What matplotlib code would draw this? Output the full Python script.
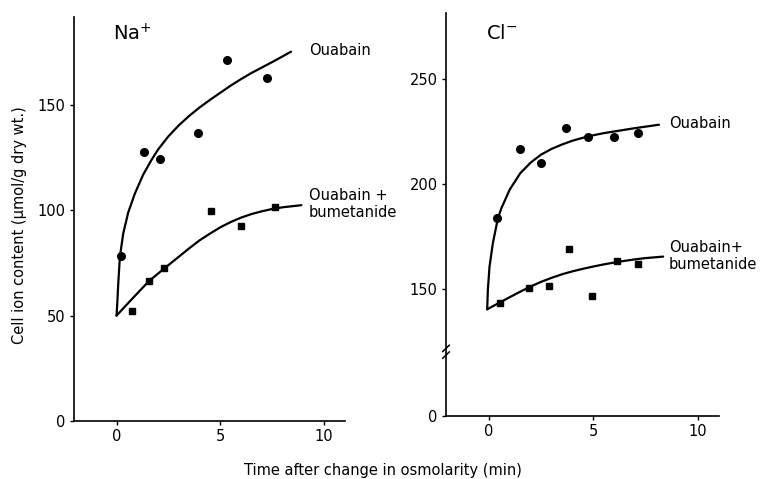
import numpy as np
import matplotlib
matplotlib.use("Agg")
import matplotlib.pyplot as plt

# ---------------- data ----------------
# Na+ panel
na_oua_x = [0.2, 1.3, 2.08, 3.93, 5.33, 7.26]
na_oua_y = [78.5, 128, 124.5, 137, 171.5, 163]
na_bum_x = [0.75, 1.58, 2.3, 4.54, 6.0, 7.62]
na_bum_y = [52, 66.5, 72.4, 99.8, 92.4, 101.8]
# fitted curves
na_oua_cx = [0, 0.04, 0.08, 0.16, 0.32, 0.56, 0.88, 1.28, 1.68, 2.0, 2.5, 3.0, 3.5, 4.0,
             4.5, 5.0, 5.5, 6.0, 6.5, 7.0, 7.5, 8.0, 8.4]
na_oua_cy = [50, 57, 65, 78, 89, 99, 108, 117, 124, 129, 135.3, 140.5, 145, 149, 152.6,
             156, 159.4, 162.5, 165.4, 168, 170.6, 173.3, 175.5]
na_bum_cx = [0, 0.8, 1.57, 2.32, 3.0, 3.5, 4.0, 4.5, 5.0, 5.5, 6.0, 6.5, 7.0, 7.5, 8.0, 8.9]
na_bum_cy = [50, 58.5, 66.5, 72.6, 78, 82, 85.8, 89, 92, 94.5, 96.6, 98.3, 99.6, 100.7,
             101.5, 102.5]

# Cl- panel
cl_oua_x = [0.40, 1.48, 2.5, 3.67, 4.72, 5.98, 7.11]
cl_oua_y = [183.8, 217, 210.2, 227, 222.6, 222.6, 224.5]
cl_bum_x = [0.53, 1.91, 2.87, 3.83, 4.93, 6.14, 7.13]
cl_bum_y = [143.5, 150.7, 151.8, 169.4, 146.7, 163.5, 162]
cl_oua_cx = [-0.08, -0.05, 0.03, 0.19, 0.43, 0.6, 1.0, 1.5, 2.0, 2.5, 3.0, 3.5, 4.0, 4.5,
             5.0, 5.5, 6.0, 6.5, 7.0, 7.5, 8.13]
cl_oua_cy = [140.5, 149.7, 160.8, 172, 183.8, 188.7, 197.6, 205.3, 210.4, 214.2, 216.9,
             219, 220.8, 222.2, 223.4, 224.4, 225.2, 226, 226.8, 227.5, 228.4]
cl_bum_cx = [-0.08, 0.51, 1.0, 1.5, 2.0, 2.5, 3.0, 3.5, 4.0, 4.5, 5.0, 5.5, 6.0, 6.5, 7.0,
             7.5, 8.33]
cl_bum_cy = [140.5, 143.7, 146.3, 148.9, 151.4, 153.6, 155.5, 157.2, 158.6, 159.8, 160.9,
             161.9, 162.8, 163.6, 164.3, 164.9, 165.6]

x_ticks = [0, 5, 10]
na_yticks = [0, 50, 100, 150]
cl_yticks = [0, 150, 200, 250]

# ---------------- figure ----------------
plt.rcParams['font.family'] = ['DejaVu Sans']
fig = plt.figure(figsize=(7.64, 4.79), dpi=100)

ax1 = fig.add_axes([74/764, 1 - 420.7/479, 271/764, 403.7/479])
ax2 = fig.add_axes([446/764, 1 - 416/479, 273/764, 403/479])

# broken y-scale for Cl panel
BRK = 120.0
LOW = 30.3
OFF = BRK - LOW

def fwd(y):
    y = np.asarray(y, dtype=float)
    return np.where(y < BRK, y * LOW / BRK, y - OFF)

def inv(v):
    v = np.asarray(v, dtype=float)
    return np.where(v < LOW, v * BRK / LOW, v + OFF)

ax2.set_yscale('function', functions=(fwd, inv))

lw = 1.6
for ax in (ax1, ax2):
    for s in ('top', 'right'):
        ax.spines[s].set_visible(False)
    for s in ('left', 'bottom'):
        ax.spines[s].set_linewidth(1.2)
    ax.set_xlim(-2.05, 11)
    ax.set_xticks(x_ticks)
    ax.tick_params(direction='out', length=3, width=1, labelsize=10.5, pad=3)
    ax.patch.set_alpha(0)

# Na panel
ax1.plot(na_oua_cx, na_oua_cy, color='black', lw=lw, solid_capstyle='round',
         solid_joinstyle='round')
ax1.plot(na_bum_cx, na_bum_cy, color='black', lw=lw, solid_capstyle='round',
         solid_joinstyle='round')
ax1.plot(na_oua_x, na_oua_y, 'o', color='black', ms=5.5)
ax1.plot(na_bum_x, na_bum_y, 's', color='black', ms=5)
ax1.set_ylim(0, 192)
ax1.set_yticks(na_yticks)
ax1.text(-0.15, 184, 'Na$^{+}$', fontsize=14, ha='left', va='center')
ax1.text(9.25, 176, 'Ouabain', fontsize=10.5, ha='left', va='center')
ax1.text(9.25, 103, 'Ouabain +\nbumetanide', fontsize=10.5, ha='left', va='center',
         linespacing=1.2)

# Cl panel
ax2.plot(cl_oua_cx, cl_oua_cy, color='black', lw=lw, solid_capstyle='round',
         solid_joinstyle='round')
ax2.plot(cl_bum_cx, cl_bum_cy, color='black', lw=lw, solid_capstyle='round',
         solid_joinstyle='round')
ax2.plot(cl_oua_x, cl_oua_y, 'o', color='black', ms=5.5)
ax2.plot(cl_bum_x, cl_bum_y, 's', color='black', ms=5)
ax2.set_ylim(0, 281.6)
ax2.set_yticks(cl_yticks)
ax2.set_yticklabels([str(t) for t in cl_yticks])
ax2.minorticks_off()
ax2.text(-0.15, 272, 'Cl$^{-}$', fontsize=14, ha='left', va='center')
ax2.text(8.6, 229, 'Ouabain', fontsize=10.5, ha='left', va='center')
ax2.text(8.6, 166, 'Ouabain+\nbumetanide', fontsize=10.5, ha='left', va='center',
         linespacing=1.2)

# break marks on the Cl y-axis
ybrk = inv(30.6)
trans = ax2.get_yaxis_transform()
for dy in (-1.6, 1.6):
    yc = float(fwd(ybrk)) + dy
    y0 = float(inv(yc - 1.5))
    y1 = float(inv(yc + 1.5))
    ax2.plot([-0.012, 0.012], [y0, y1], transform=trans, color='black',
             lw=1.1, clip_on=False)

# shared labels
fig.text(20/764, 1 - 225/479, 'Cell ion content (\u00b5mol/g dry wt.)',
         rotation=90, ha='center', va='center', fontsize=10.5)
fig.text(383/764, 1 - 470/479, 'Time after change in osmolarity (min)',
         ha='center', va='center', fontsize=10.5)

fig.savefig('out.png', dpi=100)
